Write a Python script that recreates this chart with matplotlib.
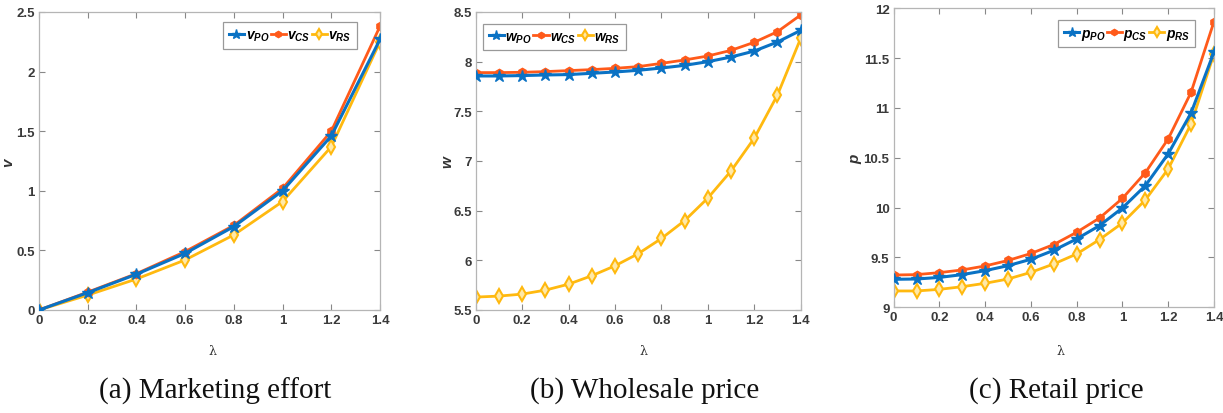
import matplotlib
matplotlib.use("Agg")
import matplotlib.pyplot as plt
from matplotlib.ticker import FuncFormatter

plt.rcParams['mathtext.fontset'] = 'custom'
plt.rcParams['mathtext.it'] = 'Liberation Sans:italic:bold'
plt.rcParams['mathtext.rm'] = 'Liberation Sans:bold'
plt.rcParams['mathtext.bf'] = 'Liberation Sans:bold'

# ---- data ----
lam_a = [0, 0.2, 0.4, 0.6, 0.8, 1.0, 1.2, 1.4]
v_PO = [0, 0.145, 0.30, 0.475, 0.70, 1.00, 1.46, 2.27]
v_CS = [0, 0.15, 0.305, 0.49, 0.71, 1.02, 1.50, 2.38]
v_RS = [0, 0.125, 0.26, 0.42, 0.63, 0.91, 1.37, 2.25]

lam = [0, 0.1, 0.2, 0.3, 0.4, 0.5, 0.6, 0.7, 0.8, 0.9, 1.0, 1.1, 1.2, 1.3, 1.4]
w_PO = [7.856, 7.856, 7.86, 7.866, 7.87, 7.883, 7.896, 7.913, 7.936, 7.963, 8.0, 8.047, 8.107, 8.198, 8.315]
w_CS = [7.89, 7.89, 7.893, 7.90, 7.91, 7.92, 7.933, 7.95, 7.983, 8.017, 8.057, 8.114, 8.195, 8.302, 8.47]
w_RS = [5.63, 5.64, 5.66, 5.70, 5.76, 5.845, 5.945, 6.067, 6.22, 6.40, 6.627, 6.90, 7.23, 7.665, 8.235]

p_PO = [9.281, 9.284, 9.30, 9.328, 9.368, 9.418, 9.482, 9.572, 9.686, 9.82, 9.997, 10.22, 10.54, 10.95, 11.56]
p_CS = [9.324, 9.328, 9.348, 9.375, 9.415, 9.47, 9.54, 9.63, 9.753, 9.896, 10.093, 10.35, 10.69, 11.157, 11.866]
p_RS = [9.164, 9.164, 9.18, 9.207, 9.241, 9.284, 9.351, 9.435, 9.535, 9.68, 9.846, 10.077, 10.388, 10.84, 11.542]

x_ticks = [0, 0.2, 0.4, 0.6, 0.8, 1.0, 1.2, 1.4]
captions = ['(a) Marketing effort', '(b) Wholesale price', '(c) Retail price']

BLUE = '#0a72c4'
ORANGE = '#ff5a1a'
YELLOW = '#ffb90f'

fig = plt.figure(figsize=(12.23, 4.14), dpi=100)
positions = [
    [0.0319, 0.2488, 0.2788, 0.7198],
    [0.389, 0.2488, 0.2657, 0.7198],
    [0.7307, 0.2553, 0.2619, 0.7222],
]

panels = [
    (lam_a, v_PO, v_CS, v_RS, 'v', (0, 2.5), [0, 0.5, 1, 1.5, 2, 2.5], 'upper right', -0.067, (0.945, 0.98)),
    (lam, w_PO, w_CS, w_RS, 'w', (5.5, 8.5), [5.5, 6, 6.5, 7, 7.5, 8, 8.5], 'upper left', -0.064, (0.01, 0.975)),
    (lam, p_PO, p_CS, p_RS, 'p', (9, 12), [9, 9.5, 10, 10.5, 11, 11.5, 12], 'upper right', -0.092, (0.955, 0.975)),
]

fmt = FuncFormatter(lambda val, pos: ('%g' % round(val, 3)))

for i, (x, s1, s2, s3, name, ylim, yticks, loc, ylx, anchor) in enumerate(panels):
    ax = fig.add_axes(positions[i])
    ax.plot(x, s1, color=BLUE, lw=2.2, marker='*', ms=9, mfc=BLUE, mec=BLUE,
            label=r'$%s_{PO}$' % name, zorder=3)
    ax.plot(x, s2, color=ORANGE, lw=2.0, marker='h', ms=6, mfc=ORANGE, mec=ORANGE,
            label=r'$%s_{CS}$' % name, zorder=2)
    ax.plot(x, s3, color=YELLOW, lw=2.0, marker='d', ms=7, mfc='#ffe9a8', mec=YELLOW,
            mew=1.5, label=r'$%s_{RS}$' % name, zorder=1)
    ax.set_xlim(0, 1.4)
    ax.set_ylim(*ylim)
    ax.set_xticks(x_ticks)
    ax.set_yticks(yticks)
    ax.xaxis.set_major_formatter(fmt)
    ax.yaxis.set_major_formatter(fmt)
    ax.tick_params(direction='in', top=True, right=True, length=4, width=0.8,
                   color='#888888', labelsize=9.5, labelcolor='#3a3a3a', pad=3)
    for lab in ax.get_xticklabels() + ax.get_yticklabels():
        lab.set_fontweight('bold')
        lab.set_family('Liberation Sans')
    for sp in ax.spines.values():
        sp.set_color('#b5b5b5')
        sp.set_linewidth(0.9)
    ax.set_ylabel(r'$%s$' % name, fontsize=11, color='#333333')
    ax.yaxis.set_label_coords(ylx, 0.5)
    leg = ax.legend(loc=loc, bbox_to_anchor=anchor, ncol=3, fontsize=10,
                    handlelength=1.1, handletextpad=0.1, markerscale=0.75,
                    columnspacing=0.1, borderpad=0.4, borderaxespad=0.3, fancybox=False,
                    framealpha=1, edgecolor='#999999')
    leg.get_frame().set_linewidth(0.9)

lam_x = [212, 643, 1060]
cap_x = [215, 645, 1056]
for i in range(3):
    fig.text(lam_x[i] / 1223, 1 - 352 / 414, r'λ', ha='center', va='center',
             fontsize=9, family='DejaVu Serif', color='#333333')
    fig.text(cap_x[i] / 1223, 1 - 391 / 414, captions[i], ha='center', va='center',
             fontsize=21, family='Liberation Serif', color='#111111')

fig.savefig('out.png', dpi=100)
